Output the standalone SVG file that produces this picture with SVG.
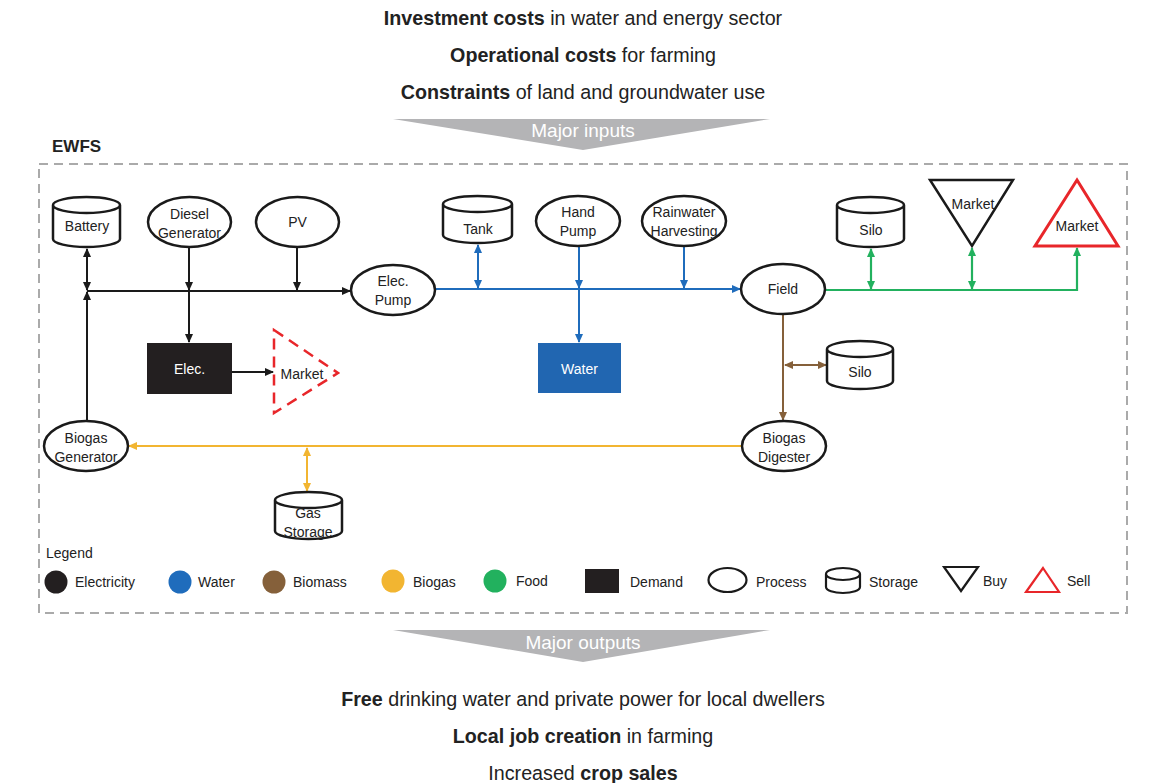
<svg xmlns="http://www.w3.org/2000/svg" width="1159" height="783" viewBox="0 0 1159 783">
<style>
text{font-family:"Liberation Sans",Arial,sans-serif;fill:#222}
.t{font-size:19.7px}
.b{font-weight:bold}
.n{font-size:14px;text-anchor:middle}
.lg{font-size:14px}
.shape{fill:#fff;stroke:#1a1a1a;stroke-width:2.5}
.el{stroke:#1a1a1a;stroke-width:2;fill:none}
.wa{stroke:#1f6cbc;stroke-width:2;fill:none}
.bm{stroke:#85603a;stroke-width:2;fill:none}
.bg{stroke:#f2b531;stroke-width:2;fill:none}
.fd{stroke:#22b15e;stroke-width:2.2;fill:none}
</style>
<defs>
<marker id="aK" markerWidth="9" markerHeight="8" refX="8" refY="4" orient="auto-start-reverse" markerUnits="userSpaceOnUse"><path d="M0,0 L9,4 L0,8 Z" fill="#1a1a1a"/></marker>
<marker id="aB" markerWidth="9" markerHeight="8" refX="8" refY="4" orient="auto-start-reverse" markerUnits="userSpaceOnUse"><path d="M0,0 L9,4 L0,8 Z" fill="#1f6cbc"/></marker>
<marker id="aM" markerWidth="9" markerHeight="8" refX="8" refY="4" orient="auto-start-reverse" markerUnits="userSpaceOnUse"><path d="M0,0 L9,4 L0,8 Z" fill="#85603a"/></marker>
<marker id="aY" markerWidth="9" markerHeight="8" refX="8" refY="4" orient="auto-start-reverse" markerUnits="userSpaceOnUse"><path d="M0,0 L9,4 L0,8 Z" fill="#f2b531"/></marker>
<marker id="aG" markerWidth="9" markerHeight="8" refX="8" refY="4" orient="auto-start-reverse" markerUnits="userSpaceOnUse"><path d="M0,0 L9,4 L0,8 Z" fill="#22b15e"/></marker>
</defs>
<rect width="1159" height="783" fill="#fff"/>

<g id="header">
<text class="t" x="583" y="25" text-anchor="middle"><tspan class="b">Investment costs</tspan> in water and energy sector</text>
<text class="t" x="583" y="62" text-anchor="middle"><tspan class="b">Operational costs</tspan> for farming</text>
<text class="t" x="583" y="99" text-anchor="middle"><tspan class="b">Constraints</tspan> of land and groundwater use</text>
</g>
<g id="major-inputs">
<path d="M393,119 L770,119 L583,150 Z" fill="#b4b4b6"/>
<text x="583" y="137" text-anchor="middle" style="font-size:19px;fill:#fff">Major inputs</text>
</g>

<g id="ewfs-frame">
<rect x="39" y="164" width="1088" height="449" fill="none" stroke="#aaaaaa" stroke-width="2" stroke-dasharray="9 6"/>
<text x="52" y="152" class="b" style="font-size:17px">EWFS</text>
</g>

<g id="connectors">
<line class="el" x1="87" y1="291" x2="350" y2="291" marker-end="url(#aK)"/>
<line class="el" x1="87" y1="249" x2="87" y2="290" marker-start="url(#aK)" marker-end="url(#aK)"/>
<line class="el" x1="87" y1="421" x2="87" y2="292" marker-end="url(#aK)"/>
<line class="el" x1="189" y1="248" x2="189" y2="290" marker-end="url(#aK)"/>
<line class="el" x1="189" y1="291" x2="189" y2="342" marker-end="url(#aK)"/>
<line class="el" x1="297" y1="247" x2="297" y2="290" marker-end="url(#aK)"/>
<line class="el" x1="232" y1="372" x2="273" y2="372" marker-end="url(#aK)"/>
<line class="wa" x1="435" y1="289" x2="740" y2="289" marker-end="url(#aB)"/>
<line class="wa" x1="478" y1="245" x2="478" y2="288" marker-start="url(#aB)" marker-end="url(#aB)"/>
<line class="wa" x1="579" y1="246" x2="579" y2="288" marker-end="url(#aB)"/>
<line class="wa" x1="579" y1="289" x2="579" y2="342" marker-end="url(#aB)"/>
<line class="wa" x1="684" y1="246" x2="684" y2="288" marker-end="url(#aB)"/>
<path class="fd" d="M825,290 H1077 V248" marker-end="url(#aG)"/>
<line class="fd" x1="871" y1="249" x2="871" y2="289" marker-start="url(#aG)" marker-end="url(#aG)"/>
<line class="fd" x1="972" y1="248" x2="972" y2="289" marker-start="url(#aG)" marker-end="url(#aG)"/>
<line class="bm" x1="783" y1="314" x2="783" y2="420" marker-end="url(#aM)"/>
<line class="bm" x1="785" y1="365" x2="826" y2="365" marker-start="url(#aM)" marker-end="url(#aM)"/>
<line class="bg" x1="742" y1="446" x2="129" y2="446" marker-end="url(#aY)"/>
<line class="bg" x1="307" y1="448" x2="307" y2="491" marker-start="url(#aY)" marker-end="url(#aY)"/>
</g>

<g id="battery">
<path class="shape" d="M53,205 A33.5,8 0 0 1 120,205 V239 A33.5,8 0 0 1 53,239 Z M53,205 A33.5,8 0 0 0 120,205"/>
<text class="n" x="87" y="231">Battery</text>
</g>
<g id="diesel-generator">
<ellipse class="shape" cx="189.5" cy="222" rx="41.5" ry="25"/>
<text class="n" x="189.5" y="219">Diesel</text>
<text class="n" x="189.5" y="238">Generator</text>
</g>
<g id="pv">
<ellipse class="shape" cx="297.5" cy="222" rx="41.5" ry="25"/>
<text class="n" x="297.5" y="227">PV</text>
</g>
<g id="elec-pump">
<ellipse class="shape" cx="393" cy="290" rx="42" ry="25"/>
<text class="n" x="393" y="286">Elec.</text>
<text class="n" x="393" y="305">Pump</text>
</g>
<g id="elec-demand">
<rect x="147" y="343" width="85" height="51" fill="#231f20"/>
<text class="n" x="189.5" y="374" style="fill:#fff">Elec.</text>
</g>
<g id="market-elec">
<path d="M274,330 L338,373 L274,413 Z" fill="none" stroke="#e8262a" stroke-width="2.5" stroke-dasharray="11 7"/>
<text class="n" x="302" y="379">Market</text>
</g>
<g id="biogas-generator">
<ellipse class="shape" cx="86" cy="446" rx="42" ry="25"/>
<text class="n" x="86" y="443">Biogas</text>
<text class="n" x="86" y="462">Generator</text>
</g>
<g id="gas-storage">
<path class="shape" d="M275,500 A33.5,8 0 0 1 342,500 V531 A33.5,8 0 0 1 275,531 Z M275,500 A33.5,8 0 0 0 342,500"/>
<text class="n" x="308" y="518">Gas</text>
<text class="n" x="308" y="537">Storage</text>
</g>
<g id="tank">
<path class="shape" d="M443,204 A34.5,8 0 0 1 512,204 V235 A34.5,8 0 0 1 443,235 Z M443,204 A34.5,8 0 0 0 512,204"/>
<text class="n" x="478" y="234">Tank</text>
</g>
<g id="hand-pump">
<ellipse class="shape" cx="578" cy="221" rx="42" ry="25"/>
<text class="n" x="578" y="217">Hand</text>
<text class="n" x="578" y="236">Pump</text>
</g>
<g id="rainwater-harvesting">
<ellipse class="shape" cx="684" cy="221" rx="42" ry="25"/>
<text class="n" x="684" y="217">Rainwater</text>
<text class="n" x="684" y="236">Harvesting</text>
</g>
<g id="water-demand">
<rect x="538" y="343" width="83" height="50" fill="#2166b1"/>
<text class="n" x="579.5" y="374" style="fill:#fff">Water</text>
</g>
<g id="field">
<ellipse class="shape" cx="783" cy="289" rx="42" ry="25"/>
<text class="n" x="783" y="294">Field</text>
</g>
<g id="silo-food">
<path class="shape" d="M837,205 A33.5,8 0 0 1 904,205 V239 A33.5,8 0 0 1 837,239 Z M837,205 A33.5,8 0 0 0 904,205"/>
<text class="n" x="871" y="235">Silo</text>
</g>
<g id="market-buy">
<path d="M930,180 L1013,180 L972,246 Z" fill="#fff" stroke="#1a1a1a" stroke-width="2.5"/>
<text class="n" x="973" y="209">Market</text>
</g>
<g id="market-sell">
<path d="M1077,180 L1118,246 L1035,246 Z" fill="#fff" stroke="#e8262a" stroke-width="3"/>
<text class="n" x="1077" y="231">Market</text>
</g>
<g id="silo-biomass">
<path class="shape" d="M827,349 A33,8 0 0 1 893,349 V381 A33,8 0 0 1 827,381 Z M827,349 A33,8 0 0 0 893,349"/>
<text class="n" x="860" y="377">Silo</text>
</g>
<g id="biogas-digester">
<ellipse class="shape" cx="784" cy="446" rx="42" ry="25"/>
<text class="n" x="784" y="443">Biogas</text>
<text class="n" x="784" y="462">Digester</text>
</g>

<g id="legend">
<text class="lg" x="46" y="558">Legend</text>
<circle cx="56" cy="582" r="11.5" fill="#231f20"/>
<text class="lg" x="75" y="587">Electricity</text>
<circle cx="180" cy="582" r="11.5" fill="#1f6cbc"/>
<text class="lg" x="198" y="587">Water</text>
<circle cx="274" cy="582" r="11.5" fill="#85603a"/>
<text class="lg" x="293" y="587">Biomass</text>
<circle cx="393" cy="581" r="11.5" fill="#f2b531"/>
<text class="lg" x="413" y="587">Biogas</text>
<circle cx="495" cy="581" r="11.5" fill="#22b15e"/>
<text class="lg" x="516" y="586">Food</text>
<rect x="585" y="569" width="34" height="24" fill="#231f20"/>
<text class="lg" x="630" y="587">Demand</text>
<ellipse cx="727.5" cy="580" rx="19" ry="12" fill="#fff" stroke="#1a1a1a" stroke-width="2.2"/>
<text class="lg" x="756" y="587">Process</text>
<path d="M826,574 A17,6 0 0 1 860,574 V587 A17,6 0 0 1 826,587 Z M826,574 A17,6 0 0 0 860,574" fill="#fff" stroke="#1a1a1a" stroke-width="2.2"/>
<text class="lg" x="869" y="587">Storage</text>
<path d="M944,567 L978,567 L961,591 Z" fill="#fff" stroke="#1a1a1a" stroke-width="2.2"/>
<text class="lg" x="983" y="586">Buy</text>
<path d="M1043,568 L1059,592 L1026,592 Z" fill="#fff" stroke="#e8262a" stroke-width="2.2"/>
<text class="lg" x="1067" y="586">Sell</text>
</g>

<g id="major-outputs">
<path d="M393,630 L770,630 L583,662 Z" fill="#b4b4b6"/>
<text x="583" y="649" text-anchor="middle" style="font-size:19px;fill:#fff">Major outputs</text>
</g>
<g id="footer">
<text class="t" x="583" y="706" text-anchor="middle"><tspan class="b">Free</tspan> drinking water and private power for local dwellers</text>
<text class="t" x="583" y="743" text-anchor="middle"><tspan class="b">Local job creation</tspan> in farming</text>
<text class="t" x="583" y="780" text-anchor="middle">Increased <tspan class="b">crop sales</tspan></text>
</g>
</svg>
